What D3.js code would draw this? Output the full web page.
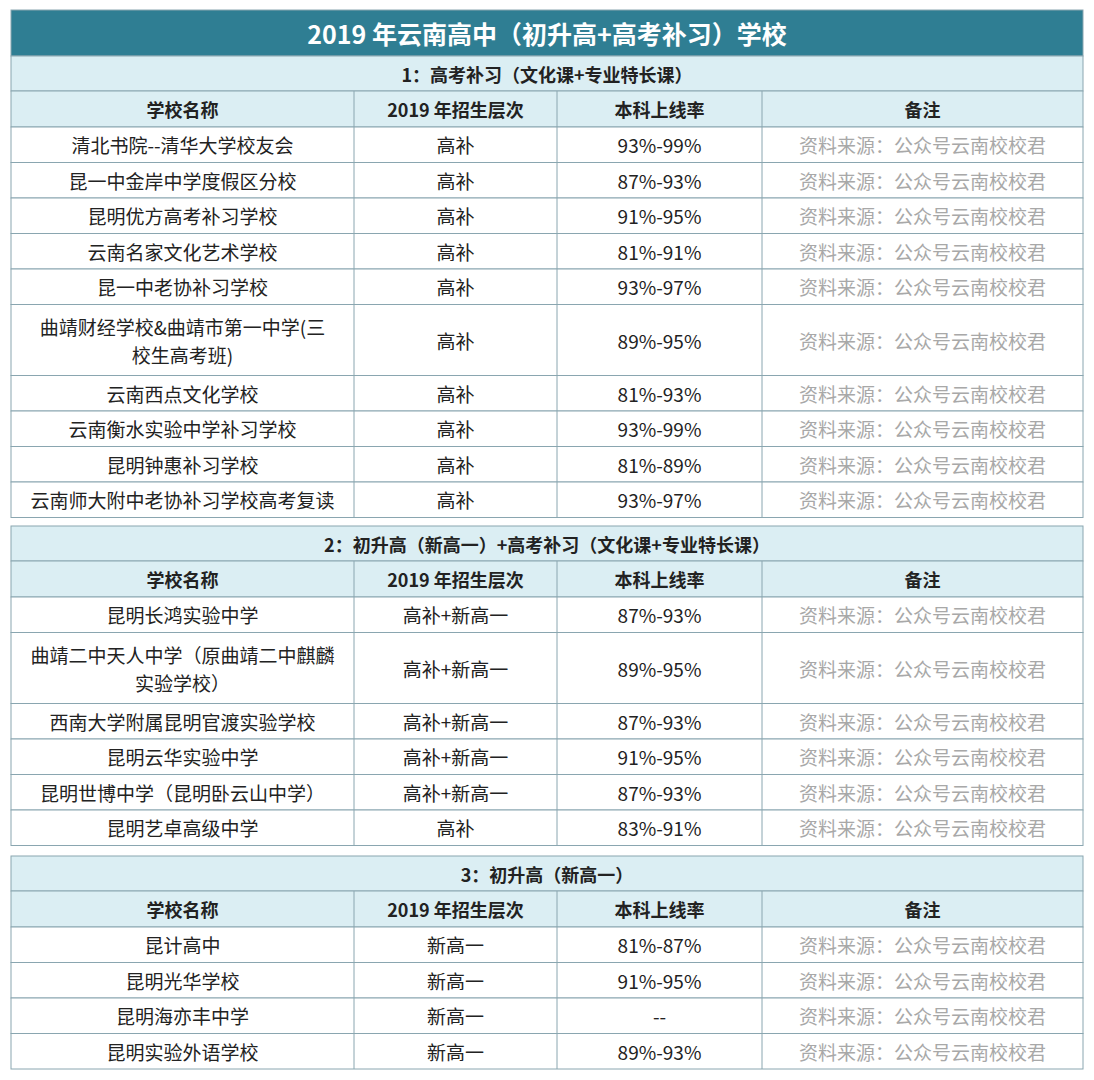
<!DOCTYPE html><html><head><meta charset="utf-8"><script src="https://cdn.jsdelivr.net/npm/d3@7"></script>
<style>body{margin:0;background:#fff}</style></head><body><svg id="c" width="1094" height="1080"></svg><script>
const title="2019 年云南高中（初升高+高考补习）学校";
const headers=["学校名称","2019 年招生层次","本科上线率","备注"];
const note="资料来源：公众号云南校校君";
const sec1Title="1：高考补习（文化课+专业特长课）";
const sec1Names=["清北书院--清华大学校友会","昆一中金岸中学度假区分校","昆明优方高考补习学校","云南名家文化艺术学校","昆一中老协补习学校","曲靖财经学校&曲靖市第一中学(三|校生高考班)","云南西点文化学校","云南衡水实验中学补习学校","昆明钟惠补习学校","云南师大附中老协补习学校高考复读"];
const sec1Level=["高补","高补","高补","高补","高补","高补","高补","高补","高补","高补"];
const sec1Rate=["93%-99%","87%-93%","91%-95%","81%-91%","93%-97%","89%-95%","81%-93%","93%-99%","81%-89%","93%-97%"];
const sec2Title="2：初升高（新高一）+高考补习（文化课+专业特长课）";
const sec2Names=["昆明长鸿实验中学","曲靖二中天人中学（原曲靖二中麒麟|实验学校）","西南大学附属昆明官渡实验学校","昆明云华实验中学","昆明世博中学（昆明卧云山中学）","昆明艺卓高级中学"];
const sec2Level=["高补+新高一","高补+新高一","高补+新高一","高补+新高一","高补+新高一","高补"];
const sec2Rate=["87%-93%","89%-95%","87%-93%","91%-95%","87%-93%","83%-91%"];
const sec3Title="3：初升高（新高一）";
const sec3Names=["昆计高中","昆明光华学校","昆明海亦丰中学","昆明实验外语学校"];
const sec3Level=["新高一","新高一","新高一","新高一"];
const sec3Rate=["81%-87%","91%-95%","--","89%-93%"];

const svg=d3.select("#c");
const F="'Noto Sans CJK SC','Noto Sans',sans-serif";
const colX=[11,354,557,762,1083];
const x=d3.scaleLinear().domain([0,1]).range([11,1083]);
const line="#8aa6b0";
function rect(y,h,fill){svg.append("rect").attr("x",x(0)).attr("y",y).attr("width",x(1)-x(0)).attr("height",h).attr("fill",fill).attr("stroke",line).attr("stroke-width",1);}
function txt(cx,cy,s,o){o=o||{};const parts=s.split("|");const lh=28;
 parts.forEach((p,i)=>svg.append("text").attr("x",cx).attr("y",cy+(i-(parts.length-1)/2)*lh).attr("text-anchor","middle").attr("dominant-baseline","central")
 .attr("font-family",F).attr("font-size",o.size||19).attr("font-weight",o.bold?"bold":"normal").attr("fill",o.fill||"#222").text(p));}
rect(10,46,"#2f7e93");
txt(547,33,title,{size:25,bold:true,fill:"#fff"});
const RH=35.5;
function section(y0,t,names,level,rate){
 rect(y0,35,"#dbeef3");txt(547,y0+17.5,t,{bold:true,size:18});
 let y=y0+35;
 rect(y,36,"#dbeef3");
 colX.slice(1,4).forEach(c=>svg.append("line").attr("x1",c).attr("x2",c).attr("y1",y).attr("y2",y+36).attr("stroke",line));
 headers.forEach((h,i)=>txt((colX[i]+colX[i+1])/2,y+18,h,{bold:true,size:18}));
 y+=36;
 names.forEach((n,i)=>{const h=n.includes("|")?RH*2:RH;
  rect(y,h,"#fff");
  colX.slice(1,4).forEach(c=>svg.append("line").attr("x1",c).attr("x2",c).attr("y1",y).attr("y2",y+h).attr("stroke",line));
  const cy=y+h/2;
  txt((colX[0]+colX[1])/2,cy,n);txt((colX[1]+colX[2])/2,cy,level[i]);txt((colX[2]+colX[3])/2,cy,rate[i]);
  txt((colX[3]+colX[4])/2,cy,note,{fill:"#a8a8a8"});
  y+=h;});
 return y;}
section(56,sec1Title,sec1Names,sec1Level,sec1Rate);
section(526,sec2Title,sec2Names,sec2Level,sec2Rate);
section(856,sec3Title,sec3Names,sec3Level,sec3Rate);
</script></body></html>
